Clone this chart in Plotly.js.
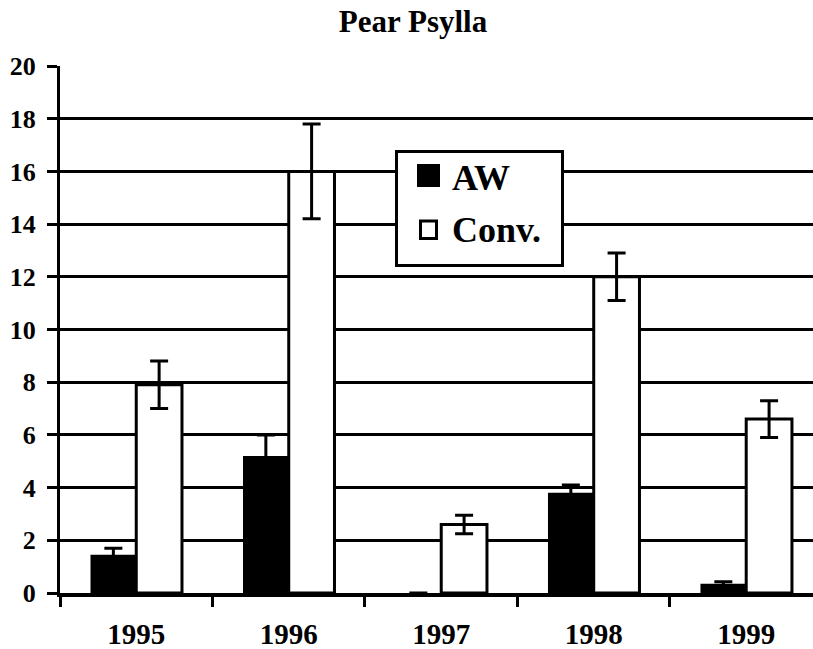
<!DOCTYPE html>
<html>
<head>
<meta charset="utf-8">
<script src="https://cdn.plot.ly/plotly-3.0.1.min.js"></script>
<style>html,body{margin:0;padding:0;background:#fff;}#chart{width:813px;height:649px;}</style>
</head>
<body>
<div id="chart"></div>
<script>
const years = ['1995', '1996', '1997', '1998', '1999'];
const awValues = [1.45, 5.2, 0, 3.8, 0.35];
const awErrors = [0.25, 0.8, null, 0.3, 0.08];
const convValues = [7.9, 16.0, 2.6, 12.0, 6.6];
const convErrors = [0.9, 1.8, 0.35, 0.9, 0.7];
const yTicks = [0, 2, 4, 6, 8, 10, 12, 14, 16, 18, 20];
const seriesNames = ['AW', 'Conv.'];

const FONT = 'Liberation Serif, Times New Roman, serif';

// plot area geometry (pixels) used to place the legend box
const W = 813, H = 649, L = 60, R = 0, T = 66, B = 56;
const pw = W - L - R, ph = H - T - B;
const px = v => (v - L) / pw;
const py = v => (H - B - v) / ph;

const traces = [
  {
    type: 'bar', name: seriesNames[0], x: years, y: awValues, showlegend: false,
    marker: {color: '#000000', line: {color: '#000000', width: 0}},
    error_y: {type: 'data', array: awErrors, visible: true, color: '#000000', thickness: 3, width: 9}
  },
  {
    type: 'bar', name: seriesNames[1], x: years, y: convValues, showlegend: false,
    marker: {color: '#ffffff', line: {color: '#000000', width: 3}},
    error_y: {type: 'data', array: convErrors, visible: true, color: '#000000', thickness: 3, width: 9}
  }
];

const legendFont = {family: FONT, size: 36, weight: 'bold', color: '#000000'};

const shapes = [
  {type: 'rect', xref: 'paper', yref: 'paper', layer: 'above',
   x0: px(396.5), x1: px(562.5), y0: py(265.5), y1: py(151.5),
   fillcolor: '#ffffff', line: {color: '#000000', width: 3}},
  {type: 'rect', xref: 'paper', yref: 'paper', layer: 'above',
   x0: px(417), x1: px(440), y0: py(187), y1: py(164),
   fillcolor: '#000000', line: {width: 0}},
  {type: 'rect', xref: 'paper', yref: 'paper', layer: 'above',
   x0: px(420.5), x1: px(436.5), y0: py(238.5), y1: py(221),
   fillcolor: '#ffffff', line: {color: '#000000', width: 3}}
];

const annotations = [
  {xref: 'paper', yref: 'paper', x: px(450), y: py(178), xanchor: 'left', yanchor: 'middle',
   text: seriesNames[0], showarrow: false, font: legendFont},
  {xref: 'paper', yref: 'paper', x: px(450), y: py(230), xanchor: 'left', yanchor: 'middle',
   text: seriesNames[1], showarrow: false, font: legendFont}
];

const layout = {
  width: W, height: H,
  margin: {l: L, r: R, t: T, b: B, pad: 0},
  paper_bgcolor: '#ffffff', plot_bgcolor: '#ffffff',
  font: {family: FONT, color: '#000000'},
  title: {
    text: 'Pear Psylla', font: {family: FONT, size: 31, weight: 'bold', color: '#000000'},
    x: 0.508, xanchor: 'center', xref: 'container', y: 0.967, yanchor: 'middle', yref: 'container'
  },
  barmode: 'group', bargap: 0.4, bargroupgap: 0,
  showlegend: false,
  shapes: shapes,
  annotations: annotations,
  xaxis: {
    type: 'category', range: [-0.5, 4.438], fixedrange: true,
    tickson: 'boundaries', ticks: 'outside', ticklen: 10, tickwidth: 3, tickcolor: '#000000',
    showline: true, linecolor: '#000000', linewidth: 4,
    showgrid: false, zeroline: false, ticklabelstandoff: 12,
    tickfont: {family: FONT, size: 29, weight: 'bold', color: '#000000'}
  },
  yaxis: {
    range: [0, 20], tickvals: yTicks, ticktext: yTicks.map(String), fixedrange: true,
    ticks: 'outside', ticklen: 10, tickwidth: 3, tickcolor: '#000000',
    showline: true, linecolor: '#000000', linewidth: 3,
    showgrid: true, gridcolor: '#000000', gridwidth: 3,
    zeroline: false, ticklabelstandoff: 6,
    tickfont: {family: FONT, size: 26, weight: 'bold', color: '#000000'}
  }
};

Plotly.newPlot('chart', traces, layout, {displayModeBar: false, staticPlot: true});
</script>
</body>
</html>
